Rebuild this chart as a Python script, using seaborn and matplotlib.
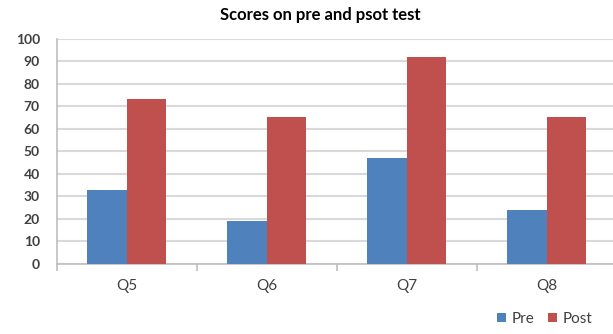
import matplotlib
matplotlib.use("Agg")
import matplotlib.pyplot as plt
import seaborn as sns
import pandas as pd

# Scores per question, before and after the course
questions = ["Q5", "Q6", "Q7", "Q8"]
pre_scores = [33, 19, 47, 24]
post_scores = [73, 65, 92, 65]
series_names = ["Pre", "Post"]
y_ticks = [0, 10, 20, 30, 40, 50, 60, 70, 80, 90, 100]

df = pd.DataFrame({
    "Question": questions * 2,
    "Score": pre_scores + post_scores,
    "Test": [series_names[0]] * len(questions) + [series_names[1]] * len(questions),
})

sns.set_theme(style="white")
plt.rcParams["font.family"] = ["Lato", "DejaVu Sans"]

palette = {"Pre": "#4F81BD", "Post": "#C0504D"}
text_color = "#404040"
grid_color = "#d9d9d9"
axis_color = "#bfbfbf"

fig = plt.figure(figsize=(6.13, 3.34), dpi=100)
ax = fig.add_axes([0.0922, 0.2096, 0.9078, 0.6749])

sns.barplot(data=df, x="Question", y="Score", hue="Test", palette=palette,
            width=0.565, gap=0, saturation=1, ax=ax, legend=True,
            errorbar=None, linewidth=0, zorder=3)

ax.set_ylim(0, 100)
ax.set_xlim(-0.5, 3.475)
ax.set_yticks(y_ticks)
ax.set_yticklabels([str(t) for t in y_ticks], fontsize=10, color=text_color,
                   fontweight="bold")
ax.set_xticks(range(len(questions)))
ax.set_xticklabels(questions, fontsize=11, color=text_color)
ax.set_xlabel("")
ax.set_ylabel("")

# Horizontal gridlines
ax.yaxis.grid(True, color=grid_color, linewidth=1.5, zorder=0)
ax.xaxis.grid(False)
ax.set_axisbelow(True)

for side in ["top", "right"]:
    ax.spines[side].set_visible(False)
for side in ["left", "bottom"]:
    ax.spines[side].set_color(axis_color)
    ax.spines[side].set_linewidth(1.2)

ax.tick_params(axis="y", which="major", length=0, pad=12)
ax.tick_params(axis="x", which="major", length=0, pad=11)
# Category separators on the x axis
ax.set_xticks([-0.5, 0.5, 1.5, 2.5], minor=True)
ax.tick_params(axis="x", which="minor", length=5, width=1.2, color=axis_color,
               direction="out", bottom=True)

fig.text(0.523, 0.955, "Scores on pre and psot test", ha="center", va="center",
         fontsize=12, fontweight="bold", color="black")

handles, labels = ax.get_legend_handles_labels()
ax.get_legend().remove()
fig.legend(handles, labels, loc="center", bbox_to_anchor=(0.889, 0.045),
           ncol=2, frameon=False, fontsize=11, handlelength=0.55,
           handleheight=0.55, handletextpad=0.4, columnspacing=0.9,
           labelcolor=text_color, borderaxespad=0, borderpad=0)

fig.savefig("out.png", dpi=100)
